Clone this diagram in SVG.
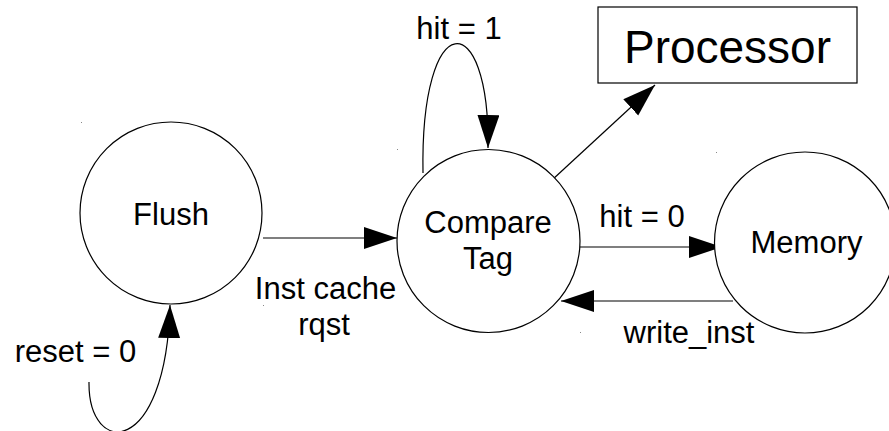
<svg xmlns="http://www.w3.org/2000/svg" width="889" height="431" viewBox="0 0 889 431">
  <style>
    .node { fill: #ffffff; stroke: #000000; stroke-width: 1.2; }
    .edge { fill: none; stroke: #000000; stroke-width: 1.2; }
    .lbl { font-family: "Liberation Sans", Arial, sans-serif; font-size: 31px; fill: #000000; text-anchor: middle; }
    .big { font-size: 46px; }
    .dot { fill: #888888; }
  </style>
  <defs>
    <marker id="arrow" markerUnits="userSpaceOnUse" markerWidth="34" markerHeight="23" refX="33" refY="11" orient="auto">
      <path d="M0,0 L33,11 L0,22 Z" fill="#000000"/>
    </marker>
  </defs>
  <rect width="889" height="431" fill="#ffffff"/>

  <g id="connectors">
    <path class="edge" d="M263,238 L397,238" marker-end="url(#arrow)"/>
    <path class="edge" d="M580,247 L722,247" marker-end="url(#arrow)"/>
    <path class="edge" d="M733,301 L561,301" marker-end="url(#arrow)"/>
    <path class="edge" d="M552,180 L655,85" marker-end="url(#arrow)"/>
    <path class="edge" d="M423,173 C420,5 490,5 488,148" marker-end="url(#arrow)"/>
    <path class="edge" d="M89,382 C88,458 166,458 170,305" marker-end="url(#arrow)"/>
  </g>

  <g id="flush">
    <circle class="node" cx="171" cy="213" r="91"/>
    <text class="lbl" x="171" y="225">Flush</text>
  </g>
  <g id="compare-tag">
    <circle class="node" cx="488.5" cy="241" r="91.5"/>
    <text class="lbl" x="488" y="233">Compare</text>
    <text class="lbl" x="488" y="269">Tag</text>
  </g>
  <g id="memory">
    <circle class="node" cx="805" cy="242.5" r="90.5"/>
    <text class="lbl" x="806.5" y="253">Memory</text>
  </g>
  <g id="processor">
    <rect class="node" x="598" y="7" width="259" height="76"/>
    <text class="lbl big" x="727.5" y="63">Processor</text>
  </g>

  <g id="labels">
    <text class="lbl" x="459" y="39">hit = 1</text>
    <text class="lbl" x="642" y="227">hit = 0</text>
    <text class="lbl" x="689" y="343">write_inst</text>
    <text class="lbl" x="325.5" y="299">Inst cache</text>
    <text class="lbl" x="324" y="335">rqst</text>
    <text class="lbl" x="75.5" y="362">reset = 0</text>
  </g>

  <g id="marks">
    <rect class="dot" x="81" y="122" width="1" height="1"/>
    <rect class="dot" x="397" y="149" width="1" height="1"/>
    <rect class="dot" x="716" y="152" width="1" height="1"/>
    <rect class="dot" x="580" y="332" width="1" height="1"/>
    <rect class="dot" x="263" y="305" width="1" height="1"/>
  </g>
</svg>
